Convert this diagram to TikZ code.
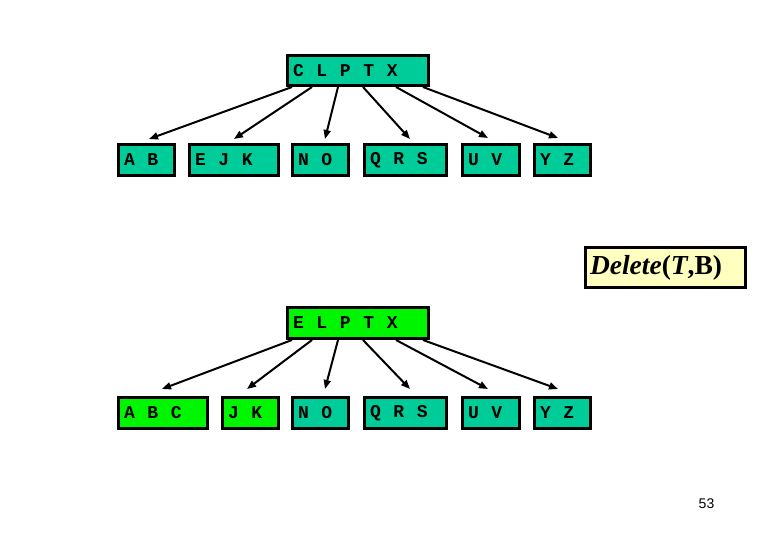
\documentclass[tikz,border=0pt]{standalone}
\usepackage{fontspec}
\setmainfont{Liberation Serif}
\newfontfamily\boxfont{Liberation Mono}
\newfontfamily\numfont{Liberation Sans}
\usetikzlibrary{arrows.meta}
\definecolor{teal}{RGB}{0,204,153}
\definecolor{lime}{RGB}{0,245,0}
\definecolor{paleyellow}{RGB}{255,255,192}
\newcommand{\K}[1]{\makebox[23.5pt][l]{#1}}
\tikzset{
  keybox/.style={draw=black, line width=3pt, inner xsep=5.5pt, inner ysep=0pt, align=left,
    font=\boxfont\bfseries\fontsize{18}{18}\selectfont, anchor=center},
  tealbox/.style={keybox, fill=teal},
  limebox/.style={keybox, fill=lime},
  arr/.style={line width=2pt, -{Triangle[length=9pt,width=7pt]}},
}
\begin{document}
\begin{tikzpicture}[x=1pt,y=-1pt]
\useasboundingbox (0,0) rectangle (780,540);
% top tree
\node[tealbox, minimum height=30pt, text width=130pt] (r1) at (358,70.5) {\K{C}\K{L}\K{P}\K{T}X};
\node[tealbox, minimum height=31pt, text width=45pt] (ab) at (146.5,160) {\K{A}B};
\node[tealbox, minimum height=31pt, text width=78pt] (ejk) at (234,160) {\K{E}\K{J}K};
\node[tealbox, minimum height=31pt, text width=45pt] (no1) at (320.5,160) {\K{N}O};
\node[tealbox, minimum height=31pt, text width=71pt] (qrs1) at (405.5,160) {\K{Q}\K{R}S};
\node[tealbox, minimum height=31pt, text width=46pt] (uv1) at (491,160) {\K{U}V};
\node[tealbox, minimum height=31pt, text width=45pt] (yz1) at (562.5,160) {\K{Y}Z};
\draw[arr] ([xshift=6pt]r1.south west) -- ([xshift=2.5pt,yshift=4pt]ab.north);
\draw[arr] ([xshift=26pt]r1.south west) -- ([xshift=0pt,yshift=4pt]ejk.north);
\draw[arr] ([xshift=52pt]r1.south west) -- ([xshift=4.5pt,yshift=4pt]no1.north);
\draw[arr] ([xshift=77pt]r1.south west) -- ([xshift=4.5pt,yshift=4pt]qrs1.north);
\draw[arr] ([xshift=110pt]r1.south west) -- ([xshift=-3pt,yshift=5pt]uv1.north);
\draw[arr] ([xshift=137pt]r1.south west) -- ([xshift=-4.5pt,yshift=5pt]yz1.north);
% label
\node[draw=black, line width=3pt, fill=paleyellow, minimum height=40pt, text width=150pt,
  inner xsep=5pt, inner ysep=0pt, align=left, font=\bfseries\fontsize{27.5}{27.5}\selectfont] (op) at (665,267.5)
  {\textit{Delete}(\textit{T},B)};
% bottom tree
\node[limebox, minimum height=31pt, text width=130pt] (r2) at (358,323) {\K{E}\K{L}\K{P}\K{T}X};
\node[limebox, minimum height=31pt, text width=78pt] (abc) at (163,413) {\K{A}\K{B}C};
\node[limebox, minimum height=31pt, text width=45pt] (jk) at (250.5,413) {\K{J}K};
\node[tealbox, minimum height=31pt, text width=45pt] (no2) at (320.5,413) {\K{N}O};
\node[tealbox, minimum height=31pt, text width=71pt] (qrs2) at (405.5,413) {\K{Q}\K{R}S};
\node[tealbox, minimum height=31pt, text width=46pt] (uv2) at (491,413) {\K{U}V};
\node[tealbox, minimum height=31pt, text width=45pt] (yz2) at (562.5,413) {\K{Y}Z};
\draw[arr] ([xshift=6pt]r2.south west) -- ([xshift=-1pt,yshift=7pt]abc.north);
\draw[arr] ([xshift=26pt]r2.south west) -- ([xshift=-3.5pt,yshift=7pt]jk.north);
\draw[arr] ([xshift=52pt]r2.south west) -- ([xshift=4.5pt,yshift=7pt]no2.north);
\draw[arr] ([xshift=77pt]r2.south west) -- ([xshift=4.5pt,yshift=7pt]qrs2.north);
\draw[arr] ([xshift=110pt]r2.south west) -- ([xshift=-3pt,yshift=7pt]uv2.north);
\draw[arr] ([xshift=137pt]r2.south west) -- ([xshift=-4.5pt,yshift=7pt]yz2.north);
% page number
\node[font=\numfont\fontsize{14}{14}\selectfont, inner sep=0pt] (pg) at (706.5,503.5) {53};
\end{tikzpicture}
\end{document}
